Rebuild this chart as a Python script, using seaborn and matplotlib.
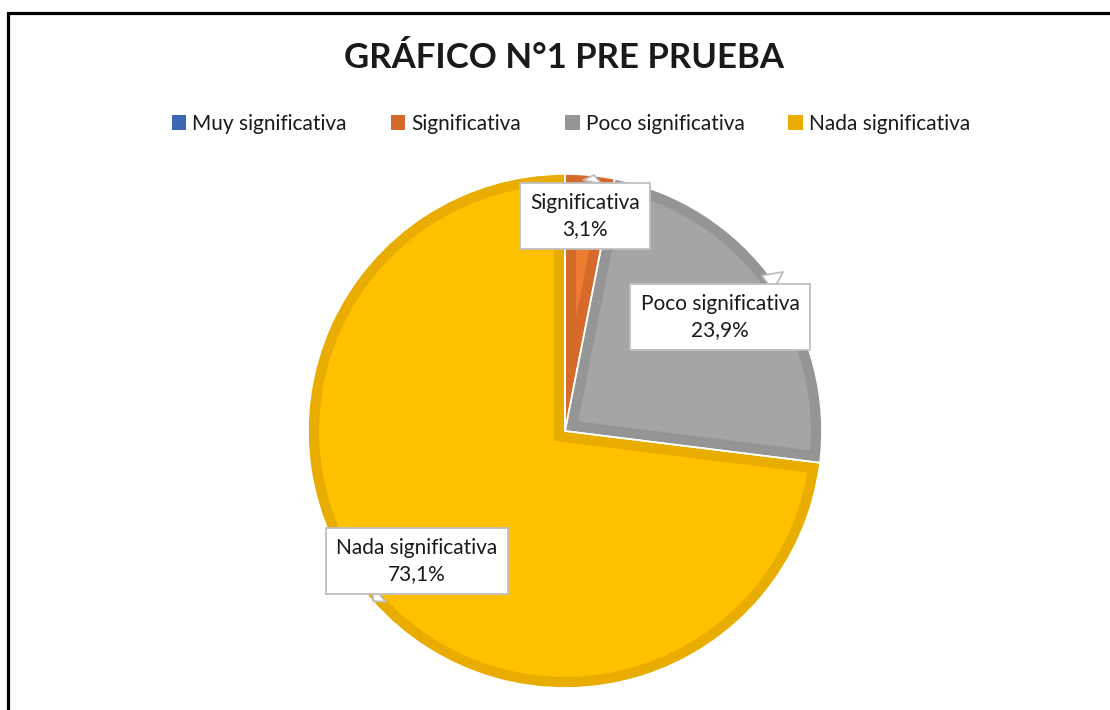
import matplotlib
matplotlib.use("Agg")
import seaborn as sns
from matplotlib import pyplot as plt
from matplotlib.patches import Patch, Rectangle

# datos del gráfico
categorias = ["Muy significativa", "Significativa", "Poco significativa", "Nada significativa"]
porcentajes = [0.0, 3.1, 23.9, 73.1]
etiquetas = ["", "Significativa\n3,1%", "Poco significativa\n23,9%", "Nada significativa\n73,1%"]

relleno = ["#4472C4", "#ED7D31", "#A5A5A5", "#FFC000"]
borde = ["#3D67B3", "#D56A2A", "#959595", "#E8AD00"]

W, H = 1110, 710

sns.set_theme(style="white")
plt.rcParams["font.family"] = ["Lato", "DejaVu Sans"]

fig = plt.figure(figsize=(W / 100, H / 100), dpi=100)
fig.patch.set_facecolor("white")

def px(x, y):
    # pixel (desde arriba-izquierda) -> fracción de figura
    return x / W, 1 - y / H

# marco del gráfico (solo borde superior e izquierdo visibles)
fig.patches.append(Rectangle(px(7.5, 760), 1.2, (760 - 13.5) / H, transform=fig.transFigure,
                             fill=False, edgecolor="black", linewidth=2.3, zorder=0))

# pie centrado en (565, 431) con radio 257 px
cx, cy, R = 565, 431, 257
ax = fig.add_axes([(cx - R - 2) / W, (H - cy - R - 2) / H, (2 * R + 4) / W, (2 * R + 4) / H])
wedges, _ = ax.pie(porcentajes, colors=relleno, startangle=90, counterclock=False, radius=1,
                   wedgeprops=dict(linewidth=16))
for w, ec in zip(wedges, borde):
    # borde solo hacia dentro: se recorta con la propia cuña
    w.set_edgecolor(ec)
    w.set_clip_on(True)
    w.set_clip_path(w)
ax.pie(porcentajes, colors=["none"] * 4, startangle=90, counterclock=False, radius=1,
       wedgeprops=dict(linewidth=1.2, edgecolor="white"))
lim = 1 + 2 / R
ax.set_xlim(-lim, lim)
ax.set_ylim(-lim, lim)
ax.set_axis_off()

# etiquetas tipo globo: (centro caja, punta)
globos = {
    1: ((585, 216), (594, 175)),
    2: ((720, 317), (783, 272)),
    3: ((417, 561), (373, 601)),
}
for i, (caja, punta) in globos.items():
    ax.annotate(etiquetas[i], xy=px(*punta), xycoords="figure fraction",
                xytext=px(*caja), textcoords="figure fraction",
                ha="center", va="center", fontsize=15, color="#1a1a1a", linespacing=1.35,
                annotation_clip=False,
                bbox=dict(boxstyle="square,pad=0.5", fc="white", ec="#BFBFBF", lw=1.3),
                arrowprops=dict(arrowstyle="wedge,tail_width=0.9,shrink_factor=0.5",
                                fc="white", ec="#BFBFBF", lw=1.3, shrinkA=0, shrinkB=0))

fig.text(*px(564, 58), "GRÁFICO N°1 PRE PRUEBA", ha="center", va="center",
         fontsize=25, fontweight="bold", color="#1a1a1a")

handles = [Patch(facecolor=c, edgecolor="none") for c in borde]
fig.legend(handles, categorias, loc="center", bbox_to_anchor=px(571, 124), ncol=4,
           frameon=False, fontsize=15, handlelength=0.7, handleheight=0.7,
           handletextpad=0.3, columnspacing=2.1, labelcolor="#1a1a1a")

fig.savefig("out.png", dpi=100, facecolor="white")
